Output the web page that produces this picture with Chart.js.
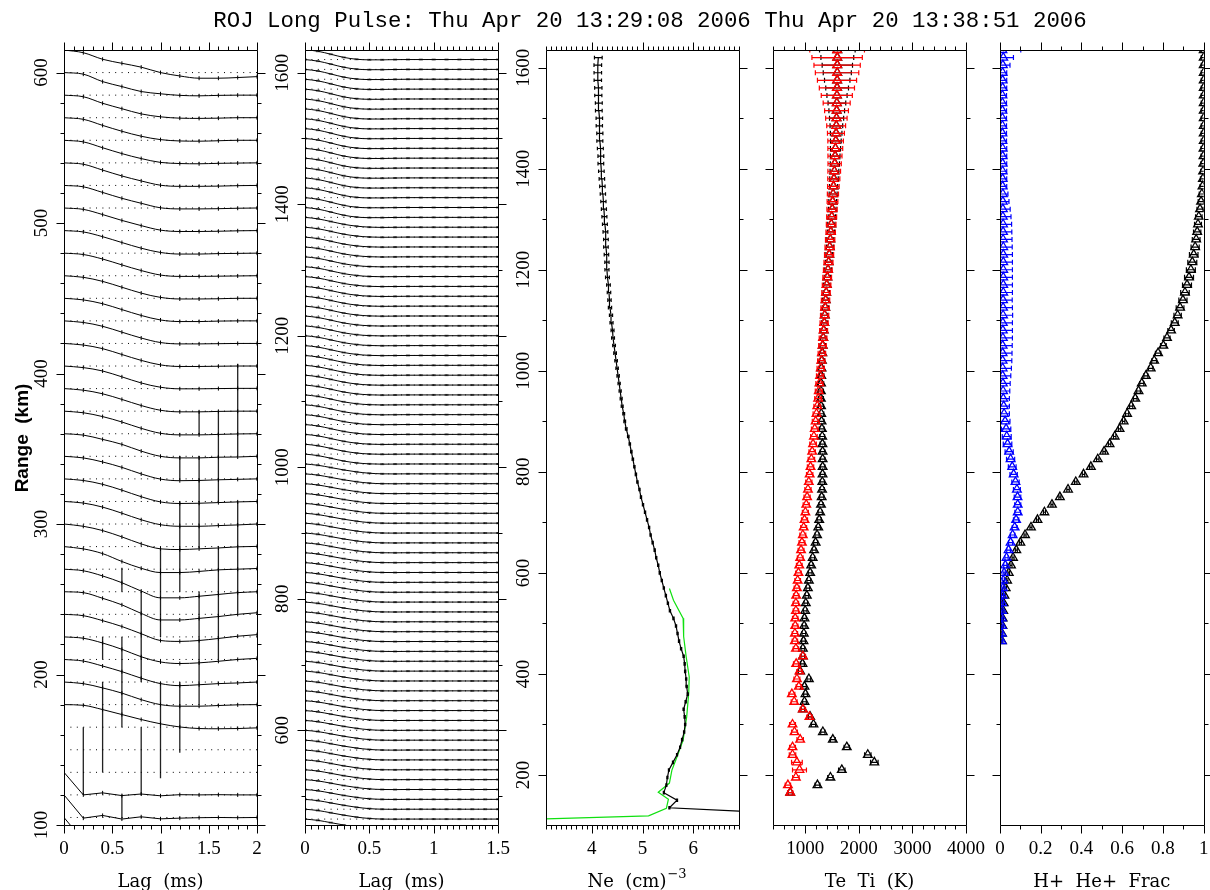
<!DOCTYPE html>
<html>
<head>
<meta charset="utf-8">
<title>ROJ Long Pulse</title>
<script src="https://cdn.jsdelivr.net/npm/chart.js@4.4.1/dist/chart.umd.min.js"></script>
<style>
  html, body { margin: 0; padding: 0; background: #fff; }
  #wrap { position: relative; width: 1210px; height: 890px; }
  #wrap canvas { position: absolute; left: 0; top: 0; }
</style>
</head>
<body>
<div id="wrap">
  <canvas id="acfLow" width="1210" height="890"></canvas>
  <canvas id="acfHigh" width="1210" height="890"></canvas>
  <canvas id="density" width="1210" height="890"></canvas>
  <canvas id="temps" width="1210" height="890"></canvas>
  <canvas id="fractions" width="1210" height="890"></canvas>
</div>
<script>
const W = 1210, H = 890, TOP = 50, BOTTOM = 825;
const GATE = 15; // km between range gates, also the ACF stacking amplitude

function steps(a, b, d) {
  const out = [];
  for (let k = 0; a + k * d <= b + 1e-6; k++) out.push(+(a + k * d).toFixed(6));
  return out;
}

const titleText = 'ROJ Long Pulse: Thu Apr 20 13:29:08 2006 Thu Apr 20 13:38:51 2006';

// ---- ACFs, low ranges (lag step 0.2 ms) ----
const lags1 = steps(0, 2, 0.2);
const gates1 = steps(90, 600, 15);
const acf1 = [
  [1, -0.03, 0.08, -0.06, 0.03, -0.05, -0.02, 0, 0.01, -0.01, 0],
  [1, -0.03, 0.09, -0.07, 0.03, -0.06, -0.03, -0.01, 0, -0.01, 0],
  [1, 0.0, 0.09, -0.03, 0.04, -0.04, 0.01, 0, 0.01, 0, 0],
  null,
  null,
  [1, 0.97, 0.78, 0.56, 0.34, 0.15, 0.01, -0.06, -0.07, -0.06, -0.03],
  [1, 0.93, 0.74, 0.51, 0.22, 0.0, -0.07, -0.07, -0.04, -0.01, 0],
  [1, 0.93, 0.71, 0.46, 0.17, -0.07, -0.16, -0.12, -0.07, -0.04, 0],
  [1, 0.94, 0.73, 0.45, 0.12, -0.11, -0.18, -0.15, -0.08, 0, 0.05],
  [1, 0.94, 0.72, 0.46, 0.14, -0.16, -0.2, -0.16, -0.07, 0.03, 0.1],
  [1, 0.96, 0.71, 0.42, 0.04, -0.25, -0.25, -0.18, -0.1, 0, 0.07],
  [1, 0.93, 0.7, 0.4, 0.03, -0.27, -0.27, -0.2, -0.12, -0.04, 0],
  [1, 0.9, 0.69, 0.34, 0.04, -0.15, -0.15, -0.1, -0.03, 0, 0.03],
  [1, 0.9, 0.71, 0.43, 0.12, -0.1, -0.13, -0.1, -0.06, -0.01, 0.01],
  [1, 0.93, 0.75, 0.48, 0.19, -0.03, -0.1, -0.1, -0.07, -0.04, 0],
  [1, 0.93, 0.76, 0.5, 0.21, -0.02, -0.09, -0.08, -0.05, -0.02, 0],
  [1, 0.93, 0.75, 0.51, 0.22, -0.01, -0.08, -0.07, -0.04, -0.02, 0],
  [1, 0.94, 0.75, 0.53, 0.23, 0, -0.07, -0.07, -0.04, -0.03, 0],
  [1, 0.93, 0.76, 0.52, 0.24, 0.02, -0.05, -0.05, -0.03, -0.01, 0],
  [1, 0.93, 0.77, 0.52, 0.25, 0.04, -0.03, -0.03, -0.01, 0, 0],
  [1, 0.93, 0.78, 0.52, 0.25, 0.06, -0.01, -0.01, 0, 0.01, 0.01],
  [1, 0.93, 0.77, 0.51, 0.25, 0.05, -0.02, -0.02, -0.01, 0, 0],
  [1, 0.93, 0.76, 0.5, 0.24, 0.04, -0.02, -0.02, -0.01, 0, 0],
  [1, 0.93, 0.76, 0.5, 0.24, 0.04, -0.03, -0.03, -0.01, 0, 0],
  [1, 0.93, 0.75, 0.49, 0.23, 0.04, -0.03, -0.03, -0.02, 0, 0],
  [1, 0.94, 0.74, 0.48, 0.23, 0.03, -0.03, -0.03, -0.02, -0.01, 0],
  [1, 0.94, 0.73, 0.47, 0.22, 0.03, -0.04, -0.04, -0.02, -0.01, 0],
  [1, 0.94, 0.71, 0.45, 0.22, 0.02, -0.04, -0.04, -0.03, -0.01, 0],
  [1, 0.94, 0.69, 0.43, 0.21, 0.01, -0.04, -0.04, -0.03, -0.01, 0],
  [1, 0.94, 0.68, 0.42, 0.2, 0.01, -0.04, -0.04, -0.03, -0.01, 0],
  [1, 0.93, 0.67, 0.41, 0.19, 0.02, -0.03, -0.04, -0.02, -0.01, 0],
  [1, 0.93, 0.66, 0.4, 0.18, 0.03, -0.03, -0.04, -0.02, 0, 0],
  [1, 0.93, 0.64, 0.4, 0.17, 0.04, -0.02, -0.03, -0.02, 0, 0],
  [1, 0.93, 0.6, 0.38, 0.16, 0.06, -0.01, -0.03, -0.01, 0, 0],
  [1, 0.88, 0.59, 0.41, 0.24, 0.0, -0.15, -0.25, -0.25, -0.22, -0.18]
];
// [lag, bottom km, top km] of the large error bars
const errBars1 = [
  [1.8, 345.5, 406.5], [1.4, 359.5, 375], [1.6, 315, 375], [1.2, 329.5, 345],
  [1.4, 284, 345], [1.6, 210, 284], [1.8, 241, 315], [1.0, 225, 284],
  [0.6, 255, 271], [1.2, 255, 315], [1.4, 180, 255], [0.8, 195, 255],
  [0.8, 120, 165], [0.4, 210, 225], [0.4, 135, 195], [0.6, 165, 225],
  [0.6, 105, 120], [0.2, 120, 165], [1.0, 131, 195], [1.2, 148, 195]
];

// ---- ACFs, high ranges (lag step 0.1 ms) ----
const lags2 = steps(0, 1.5, 0.1);
const gates2 = steps(450, 1620, 15);
const acf2Top = [1, 0.84, 0.54, 0.22, 0.03, -0.03, -0.03, -0.01, 0, 0, 0, 0, 0, 0, 0, 0];
const acf2Mid = [1, 0.85, 0.58, 0.3, 0.11, 0.01, -0.02, -0.01, 0, 0, 0, 0, 0, 0, 0, 0];
const acf2Low = [1, 0.87, 0.64, 0.4, 0.2, 0.06, 0.0, -0.01, 0, 0, 0, 0, 0, 0, 0, 0];

// ---- electron density, log10 Ne (cm^-3) ----
const neAlt = steps(120, 1620, 15);
const neVal = [
  8.6, 5.53, 5.68, 5.42, 5.47, 5.49, 5.52, 5.60, 5.68, 5.74,
  5.78, 5.82, 5.84, 5.83, 5.81, 5.85, 5.89, 5.87, 5.86, 5.84,
  5.83, 5.81, 5.76, 5.72, 5.69, 5.66, 5.61, 5.54, 5.50, 5.46,
  5.42, 5.38, 5.34, 5.31, 5.27, 5.24, 5.20, 5.16, 5.13, 5.09,
  5.05, 5.01, 4.97, 4.94, 4.90, 4.87, 4.84, 4.81, 4.78, 4.75,
  4.72, 4.68, 4.65, 4.63, 4.60, 4.58, 4.56, 4.54, 4.52, 4.50,
  4.48, 4.46, 4.44, 4.42, 4.41, 4.39, 4.38, 4.36, 4.35, 4.34,
  4.33, 4.31, 4.30, 4.30, 4.29, 4.28, 4.28, 4.27, 4.26, 4.25,
  4.24, 4.23, 4.22, 4.21, 4.20, 4.19, 4.18, 4.18, 4.17, 4.16,
  4.16, 4.15, 4.15, 4.14, 4.14, 4.13, 4.13, 4.12, 4.12, 4.12,
  4.13
];
const neErr = [
  0, 0.01, 0.01, 0.01, 0.01, 0.01, 0.01, 0.01, 0.01, 0.01,
  0.012, 0.012, 0.012, 0.012, 0.012, 0.012, 0.012, 0.012, 0.012, 0.012,
  0.012, 0.012, 0.012, 0.012, 0.012, 0.012, 0.012, 0.012, 0.012, 0.012,
  0.012, 0.012, 0.012, 0.012, 0.012, 0.012, 0.012, 0.012, 0.012, 0.012,
  0.012, 0.012, 0.012, 0.012, 0.013, 0.013, 0.013, 0.014, 0.014, 0.014,
  0.015, 0.016, 0.017, 0.018, 0.019, 0.02, 0.021, 0.022, 0.023, 0.024,
  0.025, 0.026, 0.027, 0.028, 0.029, 0.03, 0.031, 0.032, 0.033, 0.034,
  0.036, 0.038, 0.04, 0.042, 0.044, 0.045, 0.046, 0.047, 0.048, 0.049,
  0.05, 0.051, 0.052, 0.053, 0.054, 0.055, 0.056, 0.057, 0.058, 0.059,
  0.06, 0.062, 0.064, 0.066, 0.068, 0.07, 0.072, 0.073, 0.074, 0.075,
  0.076
];
const neModelAlt = [569, 546, 510, 474, 434, 394, 362, 315, 269, 236, 210, 184, 166, 152, 134, 119, 113];
const neModelVal = [5.53, 5.61, 5.80, 5.81, 5.86, 5.92, 5.91, 5.87, 5.80, 5.68, 5.58, 5.53, 5.31, 5.51, 5.47, 5.12, 3.0];

// ---- electron and ion temperatures (K) ----
const tempAlt = steps(165, 1635, 15);
const teVal = [
  721, 1229, 1471, 1683, 2290, 2168, 1776, 1516, 1330, 1155,
  1093, 957, 987, 1006, 987, 1069, 907, 950, 957, 957,
  969, 975, 981, 987, 1000, 1012, 1031, 1050, 1069, 1093,
  1112, 1140, 1166, 1195, 1222, 1244, 1262, 1280, 1295, 1308,
  1315, 1320, 1324, 1326, 1326, 1325, 1322, 1318, 1312, 1306,
  1300, 1296, 1293, 1293, 1296, 1300, 1305, 1312, 1320, 1328,
  1338, 1348, 1358, 1367, 1376, 1384, 1393, 1404, 1415, 1427,
  1439, 1450, 1460, 1470, 1480, 1489, 1498, 1506, 1514, 1522,
  1530, 1538, 1546, 1554, 1560, 1566, 1572, 1578, 1582, 1586,
  1589, 1592, 1594, 1596, 1598, 1599, 1600, 1600, 1600
];
const teErr = [
  40, 45, 50, 60, 70, 60, 50, 45, 40, 40,
  35, 35, 35, 35, 35, 35, 35, 35, 35, 35,
  35, 35, 35, 35, 35, 35, 35, 35, 36, 36,
  37, 37, 38, 38, 39, 39, 40, 40, 41, 41,
  42, 42, 43, 43, 44, 44, 45, 45, 46, 46,
  47, 47, 48, 48, 49, 49, 50, 50, 51, 51,
  52, 53, 54, 55, 56, 57, 58, 59, 60, 61,
  62, 63, 64, 65, 66, 67, 68, 70, 72, 74,
  76, 79, 82, 86, 90, 95, 100, 108, 118, 132,
  146, 165, 188, 212, 237, 262, 283, 306, 332
];
const tiVal = [
  721, 678, 827, 894, 846, 764, 764, 907, 801, 764,
  1080, 957, 795, 752, 882, 846, 894, 832, 957, 827,
  808, 808, 814, 814, 827, 827, 832, 845, 860, 875,
  890, 907, 923, 940, 956, 972, 988, 1004, 1020, 1036,
  1052, 1068, 1084, 1100, 1116, 1131, 1147, 1163, 1179, 1195,
  1211, 1226, 1242, 1254, 1266, 1278, 1290, 1301, 1312, 1323,
  1334, 1344, 1354, 1363, 1372, 1380, 1389, 1400, 1411, 1423,
  1435, 1446, 1456, 1466, 1476, 1485, 1494, 1502, 1510, 1518,
  1526, 1534, 1542, 1550, 1556, 1562, 1568, 1574, 1578, 1582,
  1585, 1588, 1590, 1592, 1594, 1595, 1596, 1596, 1596
];
const tiErr = [
  50, 50, 60, 130, 100, 60, 55, 60, 55, 55,
  50, 50, 55, 55, 50, 55, 50, 50, 50, 50,
  50, 50, 50, 50, 50, 50, 50, 50, 52, 52,
  53, 53, 54, 54, 55, 55, 56, 56, 57, 57,
  58, 58, 59, 59, 60, 60, 61, 61, 62, 62,
  63, 63, 64, 65, 66, 67, 68, 69, 70, 71,
  72, 74, 76, 77, 78, 78, 79, 80, 81, 82,
  84, 85, 86, 87, 88, 90, 93, 96, 100, 104,
  108, 113, 118, 124, 131, 138, 145, 158, 176, 200,
  222, 252, 290, 328, 365, 405, 432, 470, 510
];

// ---- H+ and He+ fractions ----
const fracAlt = steps(465, 1635, 15);
const hPlus = [
  0.01, 0.01, 0.012, 0.013, 0.016, 0.018, 0.022, 0.028, 0.035, 0.043,
  0.054, 0.064, 0.08, 0.1, 0.123, 0.152, 0.184, 0.218, 0.255, 0.294,
  0.334, 0.372, 0.41, 0.446, 0.48, 0.511, 0.538, 0.563, 0.587, 0.607,
  0.624, 0.644, 0.664, 0.68, 0.696, 0.716, 0.74, 0.757, 0.776, 0.802,
  0.82, 0.84, 0.858, 0.872, 0.884, 0.898, 0.908, 0.918, 0.928, 0.937,
  0.944, 0.951, 0.958, 0.963, 0.968, 0.972, 0.976, 0.982, 0.987, 0.991,
  0.994, 0.996, 0.997, 0.998, 0.999, 0.999, 1, 1, 1, 1,
  1, 1, 1, 1, 1, 1, 1, 1, 1
];
const hPlusErr = [
  0.004, 0.004, 0.004, 0.004, 0.004, 0.004, 0.004, 0.004, 0.004, 0.004,
  0.005, 0.005, 0.005, 0.005, 0.005, 0.005, 0.005, 0.005, 0.005, 0.005,
  0.006, 0.006, 0.006, 0.006, 0.006, 0.006, 0.006, 0.006, 0.006, 0.006,
  0.008, 0.008, 0.009, 0.009, 0.01, 0.01, 0.011, 0.012, 0.013, 0.014,
  0.015, 0.016, 0.017, 0.018, 0.019, 0.02, 0.021, 0.022, 0.022, 0.022,
  0.022, 0.021, 0.02, 0.019, 0.018, 0.017, 0.016, 0.015, 0.014, 0.013,
  0.012, 0.012, 0.012, 0.012, 0.012, 0.012, 0.012, 0.012, 0.012, 0.012,
  0.012, 0.012, 0.012, 0.012, 0.012, 0.012, 0.012, 0.012, 0.012
];
const hePlus = [
  0.008, 0.008, 0.009, 0.009, 0.01, 0.011, 0.012, 0.014, 0.016, 0.02,
  0.026, 0.032, 0.042, 0.052, 0.062, 0.072, 0.079, 0.087, 0.087, 0.086,
  0.083, 0.076, 0.067, 0.06, 0.052, 0.045, 0.037, 0.033, 0.03, 0.025,
  0.02, 0.018, 0.016, 0.015, 0.014, 0.013, 0.013, 0.013, 0.013, 0.013,
  0.014, 0.014, 0.014, 0.015, 0.015, 0.015, 0.016, 0.016, 0.016, 0.016,
  0.016, 0.016, 0.016, 0.015, 0.015, 0.015, 0.014, 0.014, 0.014, 0.014,
  0.013, 0.013, 0.013, 0.013, 0.013, 0.013, 0.012, 0.012, 0.012, 0.012,
  0.012, 0.012, 0.012, 0.013, 0.013, 0.013, 0.014, 0.016, 0.012
];
const hePlusErr = [
  0.005, 0.005, 0.005, 0.005, 0.005, 0.005, 0.005, 0.005, 0.005, 0.005,
  0.008, 0.008, 0.009, 0.01, 0.011, 0.012, 0.013, 0.014, 0.015, 0.016,
  0.017, 0.018, 0.018, 0.019, 0.02, 0.02, 0.021, 0.022, 0.023, 0.024,
  0.026, 0.028, 0.03, 0.033, 0.036, 0.04, 0.043, 0.045, 0.046, 0.047,
  0.047, 0.047, 0.047, 0.047, 0.046, 0.045, 0.045, 0.045, 0.045, 0.045,
  0.045, 0.045, 0.044, 0.044, 0.043, 0.042, 0.04, 0.036, 0.03, 0.025,
  0.02, 0.02, 0.02, 0.02, 0.02, 0.02, 0.02, 0.02, 0.02, 0.02,
  0.02, 0.02, 0.02, 0.02, 0.02, 0.02, 0.035, 0.05, 0.09
];

// ---- tick labels ----
const lagTicks1 = [0, 0.5, 1, 1.5, 2];
const lagTicks2 = [0, 0.5, 1, 1.5];
const neTicks = [4, 5, 6];
const tempTicks = [1000, 2000, 3000, 4000];
const fracTicks = [0, 0.2, 0.4, 0.6, 0.8, 1];
const rangeTicks1 = [100, 200, 300, 400, 500, 600];
const rangeTicks2 = [600, 800, 1000, 1200, 1400, 1600];
const rangeTicks3 = [200, 400, 600, 800, 1000, 1200, 1400, 1600];

function tickValues(min, max, step) {
  const out = [];
  for (let k = Math.ceil(min / step - 1e-6); k * step <= max + 1e-6; k++) out.push(+(k * step).toFixed(6));
  return out;
}
function onStep(v, step) {
  const r = v / step;
  return Math.abs(r - Math.round(r)) < 1e-6;
}

// horizontal error bars with caps, read from dataset.xErr
const errorBars = {
  id: 'errorBars',
  beforeDatasetDraw(chart, args) {
    const ds = chart.data.datasets[args.index];
    if (!ds.xErr) return;
    const { ctx, chartArea: a, scales: { x, y } } = chart;
    const cap = ds.errCap || 2;
    ctx.save();
    ctx.beginPath();
    ctx.rect(a.left, a.top, a.right - a.left, a.bottom - a.top);
    ctx.clip();
    ctx.strokeStyle = ds.borderColor;
    ctx.lineWidth = 1.2;
    ctx.beginPath();
    ds.data.forEach((p, i) => {
      const e = ds.xErr[i];
      if (!e) return;
      const py = y.getPixelForValue(p.y);
      const x0 = x.getPixelForValue(p.x - e), x1 = x.getPixelForValue(p.x + e);
      ctx.moveTo(x0, py); ctx.lineTo(x1, py);
      ctx.moveTo(x0, py - cap); ctx.lineTo(x0, py + cap);
      ctx.moveTo(x1, py - cap); ctx.lineTo(x1, py + cap);
    });
    ctx.stroke();
    ctx.restore();
  }
};

// box frame, outward ticks on all four sides, tick labels and axis title
const panelAxes = {
  id: 'panelAxes',
  afterDraw(chart, args, o) {
    const { ctx, chartArea: a, scales: { x, y } } = chart;
    const L = Math.round(a.left) + 0.5, R = Math.round(a.right) + 0.5;
    const T = Math.round(a.top) + 0.5, B = Math.round(a.bottom) + 0.5;
    ctx.save();
    ctx.strokeStyle = '#000';
    ctx.lineWidth = 1;
    ctx.beginPath();
    ctx.rect(L, T, R - L, B - T);
    for (const v of tickValues(x.min, x.max, o.xMinor)) {
      const p = Math.round(x.getPixelForValue(v)) + 0.5;
      const len = onStep(v, o.xMajor) ? 8 : 4;
      ctx.moveTo(p, B); ctx.lineTo(p, B + len);
      ctx.moveTo(p, T); ctx.lineTo(p, T - len);
    }
    for (const v of tickValues(y.min, y.max, o.yMinor)) {
      const p = Math.round(y.getPixelForValue(v)) + 0.5;
      const len = onStep(v, o.yMajor) ? 8 : 4;
      ctx.moveTo(L, p); ctx.lineTo(L - len, p);
      ctx.moveTo(R, p); ctx.lineTo(R + len, p);
    }
    ctx.stroke();

    ctx.fillStyle = '#000';
    ctx.font = '19px "Liberation Serif"';
    ctx.textAlign = 'center';
    ctx.textBaseline = 'alphabetic';
    for (const v of o.xLabels) ctx.fillText(String(v), x.getPixelForValue(v), 854);
    for (const v of o.yLabels) {
      ctx.save();
      ctx.translate(a.left - 17, y.getPixelForValue(v));
      ctx.rotate(-Math.PI / 2);
      ctx.fillText(String(v), 0, 0);
      ctx.restore();
    }

    const cx = (a.left + a.right) / 2 + (o.titleShift || 0);
    ctx.font = '18px "DejaVu Serif"';
    if (o.xTitleSup) {
      const w1 = ctx.measureText(o.xTitle).width;
      ctx.font = '13px "DejaVu Serif"';
      const w2 = ctx.measureText(o.xTitleSup).width;
      const x0 = cx - (w1 + w2) / 2;
      ctx.textAlign = 'left';
      ctx.fillText(o.xTitleSup, x0 + w1 + 1, 878);
      ctx.font = '18px "DejaVu Serif"';
      ctx.fillText(o.xTitle, x0, 887);
    } else {
      ctx.fillText(o.xTitle, cx, 887);
    }
    ctx.restore();
  }
};

const pageText = {
  id: 'pageText',
  afterDraw(chart) {
    const ctx = chart.ctx;
    ctx.save();
    ctx.fillStyle = '#000';
    ctx.textAlign = 'center';
    ctx.font = '22.4px "Liberation Mono"';
    ctx.fillText(titleText, 650, 27);
    ctx.font = 'bold 19px "Liberation Sans"';
    ctx.translate(28, 438);
    ctx.rotate(-Math.PI / 2);
    ctx.fillText('Range  (km)', 0, 0);
    ctx.restore();
  }
};

function makePanel(id, cfg) {
  return new Chart(document.getElementById(id), {
    type: 'scatter',
    data: { datasets: cfg.datasets },
    options: {
      responsive: false,
      animation: false,
      events: [],
      devicePixelRatio: 1,
      layout: { padding: { left: cfg.left, right: W - cfg.right, top: TOP, bottom: H - BOTTOM } },
      scales: {
        x: { type: 'linear', min: cfg.x[0], max: cfg.x[1], display: false },
        y: { type: 'linear', min: cfg.y[0], max: cfg.y[1], display: false }
      },
      elements: { point: { radius: 0 }, line: { borderWidth: 1 } },
      plugins: { legend: { display: false }, tooltip: { enabled: false }, panelAxes: cfg.axes }
    },
    plugins: [errorBars, panelAxes].concat(cfg.extra || [])
  });
}

function baseline(g, lagMax) {
  return {
    data: [{ x: 0, y: g }, { x: lagMax, y: g }],
    showLine: true, borderColor: '#000', borderWidth: 1, borderDash: [1, 5.4]
  };
}

// panel 1: stacked ACFs below 615 km
const sets1 = [];
gates1.forEach((g, i) => {
  sets1.push(baseline(g, 2));
  const row = acf1[i];
  if (!row) return;
  const eRegion = g < 130;
  sets1.push({
    data: lags1.map((l, k) => ({ x: l, y: g + GATE * row[k] })),
    showLine: true, borderColor: '#000', borderWidth: 1,
    tension: 0, cubicInterpolationMode: eRegion ? 'default' : 'monotone',
    pointRadius: 2, pointStyle: 'line', pointRotation: 90,
    pointBorderColor: '#000', pointBorderWidth: 1
  });
});
const errPts1 = [];
errBars1.forEach(([l, lo, hi]) => errPts1.push({ x: l, y: lo }, { x: l, y: hi }, { x: l, y: null }));
sets1.push({ data: errPts1, showLine: true, spanGaps: false, borderColor: '#222', borderWidth: 1.3 });

makePanel('acfLow', {
  left: 64, right: 257, x: [0, 2], y: [100, 615], datasets: sets1, extra: [pageText],
  axes: { xMinor: 0.1, xMajor: 0.5, xLabels: lagTicks1, xTitle: 'Lag  (ms)',
          yMinor: 20, yMajor: 100, yLabels: rangeTicks1 }
});

// panel 2: stacked ACFs above 450 km
const sets2 = [];
gates2.forEach(g => {
  sets2.push(baseline(g, 1.5));
  const row = g >= 1380 ? acf2Top : g >= 1005 ? acf2Mid : acf2Low;
  sets2.push({
    data: lags2.map((l, k) => ({ x: l, y: g + GATE * row[k] })),
    showLine: true, borderColor: '#000', borderWidth: 1, cubicInterpolationMode: 'monotone',
    pointRadius: 2, pointStyle: 'line', pointBorderColor: 'rgba(0,0,0,0.55)', pointBorderWidth: 2
  });
});

makePanel('acfHigh', {
  left: 305, right: 498, x: [0, 1.5], y: [456, 1634.5], datasets: sets2,
  axes: { xMinor: 0.05, xMajor: 0.5, xLabels: lagTicks2, xTitle: 'Lag  (ms)',
          yMinor: 100, yMajor: 200, yLabels: rangeTicks2 }
});

// panel 3: density profile
makePanel('density', {
  left: 546, right: 739, x: [3.1, 6.9], y: [101, 1635],
  datasets: [
    { data: neAlt.map((h, i) => ({ x: neVal[i], y: h })), xErr: neErr, errCap: 1.8,
      showLine: true, borderColor: '#000', borderWidth: 1.2 },
    { data: neModelAlt.map((h, i) => ({ x: neModelVal[i], y: h })),
      showLine: true, borderColor: '#10e010', borderWidth: 1.2 }
  ],
  axes: { xMinor: 0.1, xMajor: 1, xLabels: neTicks, xTitle: 'Ne  (cm)', xTitleSup: '\u22123', titleShift: -6,
          yMinor: 100, yMajor: 200, yLabels: rangeTicks3 }
});

function triangles(xs, errs, alts, color) {
  return {
    data: alts.map((h, i) => ({ x: xs[i], y: h })), xErr: errs, errCap: 2.5,
    pointStyle: 'triangle', pointRadius: 5, pointBorderWidth: 1.3,
    pointBorderColor: color, pointBackgroundColor: 'rgba(0,0,0,0)', borderColor: color
  };
}

// panel 4: temperatures (Ti drawn on top of Te)
makePanel('temps', {
  left: 773, right: 966, x: [400, 4000], y: [101, 1635],
  datasets: [triangles(tiVal, tiErr, tempAlt, '#ff0000'), triangles(teVal, teErr, tempAlt, '#000000')],
  axes: { xMinor: 200, xMajor: 1000, xLabels: tempTicks, xTitle: 'Te  Ti  (K)',
          yMinor: 100, yMajor: 200, yLabels: [] }
});

// panel 5: light ion fractions (He+ drawn on top of H+)
makePanel('fractions', {
  left: 1000, right: 1206, x: [0, 1], y: [101, 1635],
  datasets: [triangles(hePlus, hePlusErr, fracAlt, '#0000ff'), triangles(hPlus, hPlusErr, fracAlt, '#000000')],
  axes: { xMinor: 0.1, xMajor: 0.2, xLabels: fracTicks, xTitle: 'H+  He+  Frac',
          yMinor: 100, yMajor: 200, yLabels: [] }
});
</script>
</body>
</html>
